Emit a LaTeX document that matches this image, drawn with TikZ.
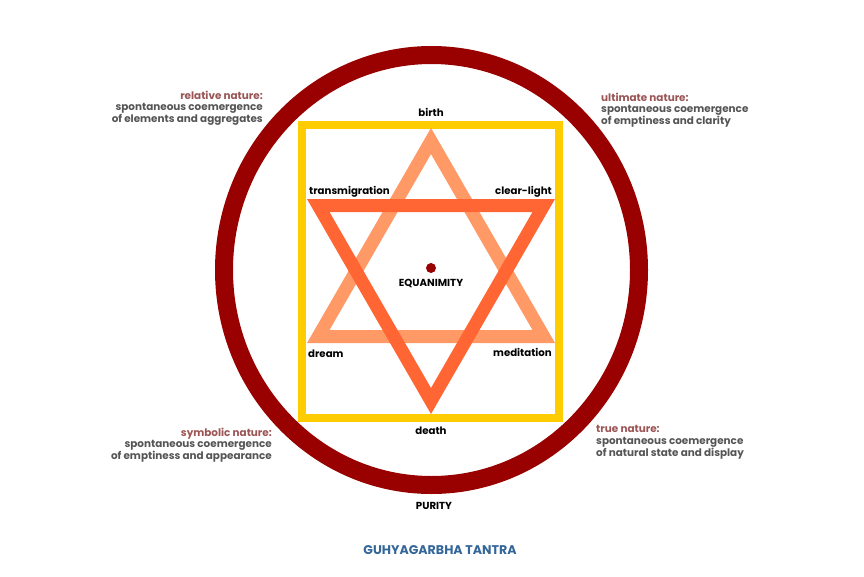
\documentclass[tikz,border=0pt]{standalone}
\usepackage{fontspec}
\setmainfont{Poppins}
\definecolor{ringred}{HTML}{990000}
\definecolor{sqyellow}{HTML}{FFCC00}
\definecolor{lightor}{HTML}{FF9966}
\definecolor{darkor}{HTML}{FF6633}
\definecolor{natred}{HTML}{9B5555}
\definecolor{natgray}{HTML}{555555}
\definecolor{titleblue}{HTML}{336699}
\begin{document}
\begin{tikzpicture}[x=1pt,y=-1pt,
  lab/.style={font=\fontsize{10.2}{11}\selectfont\bfseries, text=black, inner sep=0pt},
  nat/.style={font=\fontsize{10.4}{11.8}\selectfont\bfseries, text=natgray, inner sep=0pt},
  ttl/.style={font=\fontsize{12.6}{14}\selectfont\bfseries, text=titleblue, inner sep=0pt}]
\useasboundingbox[fill=white] (0,0) rectangle (864,576);
% ring
\draw[ringred, line width=18] (431.5,270) ellipse [x radius=207.5, y radius=215];
% square
\draw[sqyellow, line width=8, line join=miter] (302,124.5) rectangle (559,418);
% upward triangle
\draw[lightor, line width=13, line join=miter] (431,141) -- (318.25,336.5) -- (543.75,336.5) -- cycle;
% downward triangle
\draw[darkor, line width=13, line join=miter] (318.25,205.5) -- (543.75,205.5) -- (431,401) -- cycle;
% centre dot
\fill[ringred] (431,268) circle [radius=5];
% labels
\node[lab, anchor=base] (birth) at (431,116) {birth};
\node[lab, anchor=base west] (trans) at (309,194) {transmigration};
\node[lab, anchor=base east] (clear) at (552,194) {clear-light};
\node[lab, anchor=base] (equa) at (431,286) {EQUANIMITY};
\node[lab, anchor=base west] (dream) at (308,357) {dream};
\node[lab, anchor=base east] (medit) at (552,356) {meditation};
\node[lab, anchor=base] (death) at (431,434) {death};
\node[lab, anchor=base] (purity) at (434,509) {PURITY};
\node[ttl, anchor=base] (title) at (440,554) {GUHYAGARBHA TANTRA};
% natures
\node[nat, align=right, anchor=north east] (rel) at (263,90.5) {{\color{natred}relative nature:}\\spontaneous coemergence\\of elements and aggregates};
\node[nat, align=left, anchor=north west] (ult) at (601,92.5) {{\color{natred}ultimate nature:}\\spontaneous coemergence\\of emptiness and clarity};
\node[nat, align=right, anchor=north east] (sym) at (272,427.5) {{\color{natred}symbolic nature:}\\spontaneous coemergence\\of emptiness and appearance};
\node[nat, align=left, anchor=north west] (tru) at (596,425.5) {{\color{natred}true nature:}\\spontaneous coemergence\\of natural state and display};
\end{tikzpicture}
\end{document}
